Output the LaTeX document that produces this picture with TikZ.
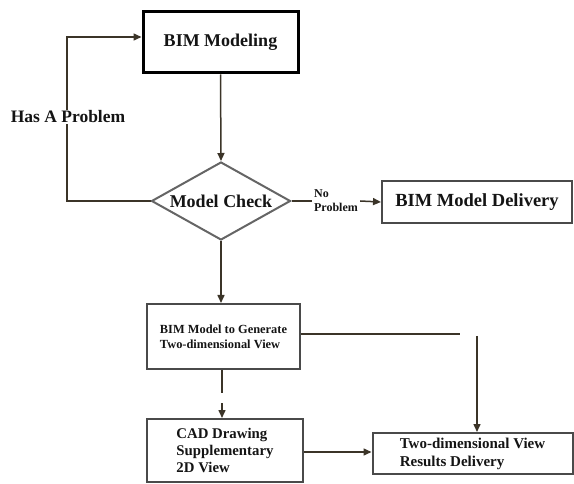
\documentclass[tikz,border=0pt]{standalone}
\usepackage{fontspec}
\setmainfont{Liberation Serif}
\usetikzlibrary{shapes.geometric,arrows.meta}
\definecolor{ln}{HTML}{3B3428}
\definecolor{bx}{HTML}{4A4A4A}
\definecolor{tx}{HTML}{141414}
\tikzset{
  box/.style={draw=bx,line width=2pt,rectangle,inner sep=0pt,text=tx,font=\bfseries},
  conn/.style={draw=ln,line width=1.5pt},
  arr/.style={conn,-{Triangle[length=8pt,width=7pt]}},
}
\begin{document}
\begin{tikzpicture}[x=1pt,y=-1pt]
\useasboundingbox (0,0) rectangle (574,484);
% nodes
\node[box,draw=black,line width=3pt,minimum width=155pt,minimum height=61pt,font=\bfseries\fontsize{18}{20}\selectfont] (bim) at (220.5,42.5) {BIM Modeling};
\node[draw=bx!85,line width=2pt,shape=diamond,aspect=1.78,inner sep=0pt,minimum width=139pt,minimum height=78pt,text=tx,font=\bfseries\fontsize{18}{20}\selectfont] (check) at (221,201) {Model Check};
\node[box,minimum width=190pt,minimum height=42pt,font=\bfseries\fontsize{18.5}{20}\selectfont] (deliv) at (477,202) {BIM Model Delivery};
\node[box,minimum width=153pt,minimum height=65pt,align=left,font=\bfseries\fontsize{12.4}{15}\selectfont] (gen) at (223.5,336.5) {BIM Model to Generate\\Two-dimensional View};
\node[box,minimum width=156pt,minimum height=63pt,align=left,font=\bfseries\fontsize{14.8}{17}\selectfont] (cad) at (225,450.5) {CAD Drawing\\Supplementary\\2D View};
\node[box,minimum width=200pt,minimum height=41pt,align=left,font=\bfseries\fontsize{15}{18}\selectfont] (res) at (472.5,453.5) {Two-dimensional View\\Results Delivery};
% labels
\node[text=tx,font=\bfseries\fontsize{17.5}{20}\selectfont,fill=white,inner sep=1pt] (hp) at (68,117) {Has A Problem};
\node[text=tx,font=\bfseries\fontsize{12}{14}\selectfont,align=left,inner sep=2pt] (np) at (336,201) {No\\Problem};
% coordinates
\coordinate (lb) at (67,201);
\coordinate (lt) at (67,37);
\coordinate (gr) at (460,334);
\coordinate (rt) at (477,336);
\coordinate (gd) at (222,393);
\coordinate (cu) at (222,403);
% connectors
\draw[arr] (bim.south) -- (check.north);
\draw[conn] (check.west) -- (lb) -- (hp.south -| lb);
\draw[arr] (hp.north -| lt) -- (lt) -- (bim.west |- lt);
\draw[conn] (check.east) -- (np.west);
\draw[arr] (np.east) -- (deliv.west);
\draw[arr] (check.south) -- (gen.north -| check.south);
\draw[conn] (gen.east |- gr) -- (gr);
\draw[arr] (rt) -- (res.north -| rt);
\draw[conn] (gen.south -| gd) -- (gd);
\draw[arr] (cu) -- (cad.north -| cu);
\draw[arr] (cad.east |- 0,452) -- (res.west |- 0,452);
\end{tikzpicture}
\end{document}
